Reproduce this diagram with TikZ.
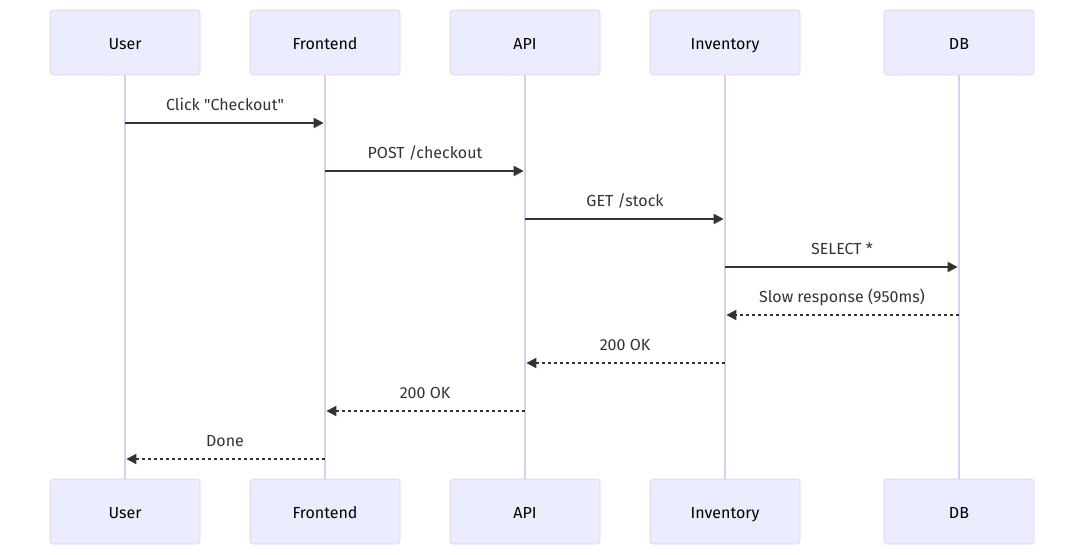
\documentclass[tikz,border=0pt]{standalone}
\usepackage{fontspec}
\setmainfont{Fira Sans}
\usetikzlibrary{arrows.meta}
\definecolor{actorfill}{HTML}{ECECFF}
\definecolor{actorline}{HTML}{DACEF3}
\definecolor{msgcol}{HTML}{333333}

\begin{document}
\begin{tikzpicture}[x=0.75pt,y=-0.75pt,
    actor/.style={draw=actorline, fill=actorfill, rounded corners=2.25pt,
      minimum width=112.5pt, minimum height=48.75pt, inner sep=0pt,
      text height=11pt, text depth=0.3pt,
      font=\fontsize{12}{14}\selectfont, text=black},
    life/.style={draw=actorline, line width=1.2pt},
    call/.style={draw=msgcol, line width=1.5pt,
      -{Triangle[length=7.5pt,width=7.5pt]}, shorten >=1pt},
    reply/.style={call, dash pattern=on 2.25pt off 2.25pt},
    lbl/.style={text=msgcol, font=\fontsize{12}{14}\selectfont,
      inner sep=0pt, text height=8.6pt, text depth=2.4pt, yshift=12.75pt}]
    \useasboundingbox (0,0) rectangle (1084,555);
    % lifelines and actor boxes
    \foreach \n/\x/\t in {user/125/User, front/325/Frontend, api/525/API,
                          inv/725/Inventory, db/959/DB} {
      \draw[life] (\x,75) -- (\x,479);
      \node[actor] (\n T) at (\x,42.5) {\t};
      \node[actor] (\n B) at (\x,511.5) {\t};
      \foreach \r/\y in {1/123,2/171,3/219,4/267,5/315,6/363,7/411,8/459}
        \coordinate (\n-\r) at (\x,\y);
    }
    % messages
    \draw[call] (user-1) -- (front-1)
      node[lbl, midway] {Click \textquotedbl Checkout\textquotedbl};
    \draw[call] (front-2) -- (api-2) node[lbl, midway] {POST /checkout};
    \draw[call] (api-3) -- (inv-3) node[lbl, midway] {GET /stock};
    \draw[call] (inv-4) -- (db-4) node[lbl, midway] {SELECT *};
    \draw[reply] (db-5) -- (inv-5) node[lbl, midway] {Slow response (950ms)};
    \draw[reply] (inv-6) -- (api-6) node[lbl, midway] {200 OK};
    \draw[reply] (api-7) -- (front-7) node[lbl, midway] {200 OK};
    \draw[reply] (front-8) -- (user-8) node[lbl, midway] {Done};
\end{tikzpicture}
\end{document}
